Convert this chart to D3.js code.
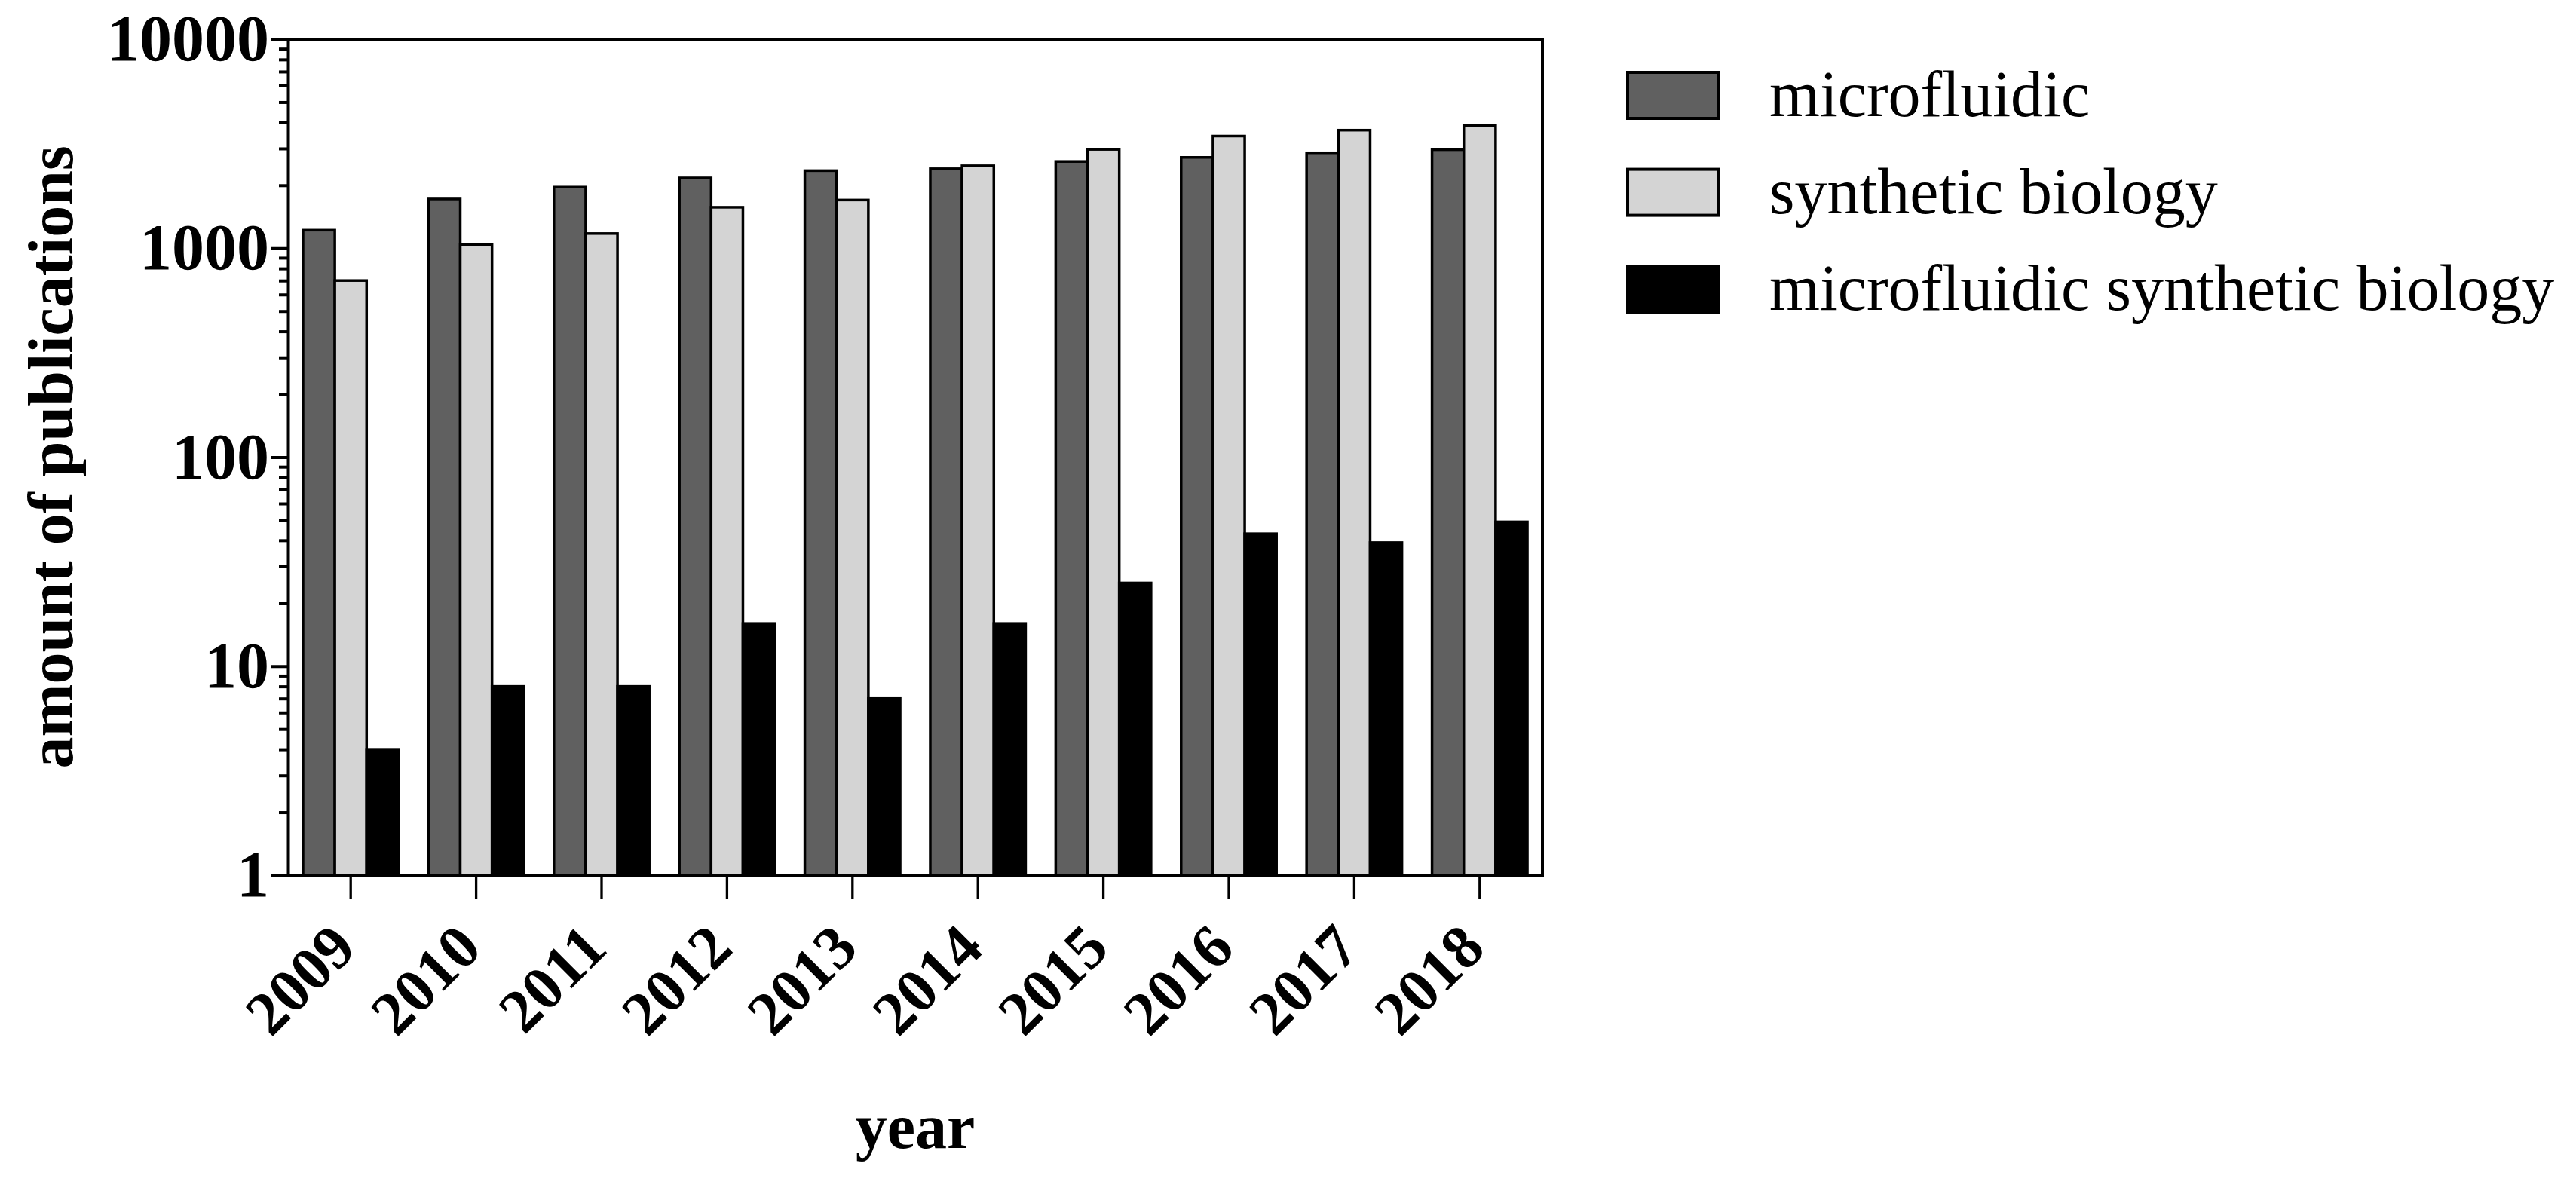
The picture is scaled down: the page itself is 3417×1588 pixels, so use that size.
<!DOCTYPE html>
<html>
<head>
<meta charset="utf-8">
<script src="https://cdn.jsdelivr.net/npm/d3@7"></script>
<style>
  html, body { margin: 0; padding: 0; background: #fff; }
  svg { display: block; }
  text { font-family: "Liberation Serif", "Times New Roman", serif; fill: #000; }
</style>
</head>
<body>
<svg id="chart" width="3417" height="1588"></svg>
<script>
// ---- data ----
const years = ["2009","2010","2011","2012","2013","2014","2015","2016","2017","2018"];
const seriesNames = ["microfluidic", "synthetic biology", "microfluidic synthetic biology"];
const microfluidic = [1220, 1720, 1960, 2170, 2350, 2400, 2600, 2720, 2860, 2960];
const syntheticBiology = [700, 1040, 1175, 1570, 1700, 2480, 2970, 3440, 3670, 3860];
const microfluidicSyntheticBiology = [4, 8, 8, 16, 7, 16, 25, 43, 39, 49];
const majorTicks = [1, 10, 100, 1000, 10000];
const seriesColors = ["#606060", "#d4d4d4", "#000000"];
const yLabel = "amount of publications";
const xLabel = "year";

const seriesValues = [microfluidic, syntheticBiology, microfluidicSyntheticBiology];

// ---- layout ----
const L = 382, R = 2046, T = 52, B = 1161;
const svg = d3.select("#chart");

const x0 = d3.scaleBand().domain(years).range([L, R]).padding(0);
const bw = x0.bandwidth();
const x1 = d3.scaleBand().domain(seriesNames).range([bw * 0.12, bw * 0.88]).padding(0);
const y = d3.scaleLog().domain([1, 10000]).range([B, T]);
const color = d3.scaleOrdinal().domain(seriesNames).range(seriesColors);

// ---- bars ----
const rows = years.map((yr, i) => ({
  year: yr,
  vals: seriesNames.map((s, k) => ({ key: s, value: seriesValues[k][i] }))
}));

const g = svg.append("g");
const groups = g.selectAll("g.grp").data(rows).enter().append("g")
  .attr("transform", d => `translate(${x0(d.year)},0)`);
groups.selectAll("rect").data(d => d.vals).enter().append("rect")
  .attr("x", d => x1(d.key))
  .attr("width", x1.bandwidth())
  .attr("y", d => y(d.value))
  .attr("height", d => y(1) - y(d.value))
  .attr("fill", d => color(d.key))
  .attr("stroke", "#000")
  .attr("stroke-width", 3.5);

// ---- y axis: minor ticks ----
const minorTicks = y.ticks().filter(v => !majorTicks.includes(v));
const yMinor = svg.append("g").attr("transform", `translate(${L},0)`)
  .call(d3.axisLeft(y).tickValues(minorTicks).tickSize(12).tickFormat(""));
yMinor.select(".domain").remove();
yMinor.selectAll(".tick line").attr("stroke", "#000").attr("stroke-width", 4);

// ---- y axis: major ticks ----
const yMajor = svg.append("g").attr("transform", `translate(${L},0)`)
  .call(d3.axisLeft(y).tickValues(majorTicks).tickSize(23).tickSizeOuter(0).tickPadding(2).tickFormat(d3.format("d")));
yMajor.select(".domain").attr("stroke", "#000").attr("stroke-width", 4);
yMajor.selectAll(".tick line").attr("stroke", "#000").attr("stroke-width", 4);
yMajor.selectAll(".tick text")
  .style("font-family", "'Liberation Serif', serif")
  .style("font-weight", "bold")
  .style("font-size", "86px")
  .attr("fill", "#000");

// ---- x axis ----
const xAxis = svg.append("g").attr("transform", `translate(0,${B})`)
  .call(d3.axisBottom(x0).tickSize(32).tickSizeOuter(0).tickPadding(10));
xAxis.select(".domain").attr("stroke", "#000").attr("stroke-width", 4)
  .attr("d", `M${L - 23},0H${R + 2}`);
xAxis.selectAll(".tick line").attr("stroke", "#000").attr("stroke-width", 3.3);
xAxis.selectAll(".tick text")
  .style("font-family", "'Liberation Serif', serif")
  .style("font-weight", "bold")
  .style("font-size", "82px")
  .attr("fill", "#000")
  .attr("text-anchor", "end")
  .attr("dy", "0.35em")
  .attr("transform", "translate(-10,80) rotate(-45)")
  .attr("y", 0).attr("x", 0);

// ---- frame (top and right) ----
svg.append("line").attr("x1", L - 23).attr("x2", R + 2).attr("y1", T).attr("y2", T)
  .attr("stroke", "#000").attr("stroke-width", 4);
svg.append("line").attr("x1", R).attr("x2", R).attr("y1", T).attr("y2", B)
  .attr("stroke", "#000").attr("stroke-width", 4);

// ---- axis titles ----
svg.append("text")
  .attr("transform", `translate(96,${(T + B) / 2}) rotate(-90)`)
  .attr("text-anchor", "middle")
  .style("font-weight", "bold")
  .style("font-size", "84px")
  .text(yLabel);

svg.append("text")
  .attr("x", (L + R) / 2).attr("y", 1523)
  .attr("text-anchor", "middle")
  .style("font-weight", "bold")
  .style("font-size", "84px")
  .text(xLabel);

// ---- legend ----
const legend = svg.append("g").attr("transform", "translate(2159,96)");
const items = legend.selectAll("g").data(seriesNames).enter().append("g")
  .attr("transform", (d, i) => `translate(0,${i * 128.6})`);
items.append("rect")
  .attr("width", 120).attr("height", 61)
  .attr("fill", d => color(d))
  .attr("stroke", "#000").attr("stroke-width", 4);
items.append("text")
  .attr("x", 188).attr("y", 58)
  .style("font-size", "86px")
  .text(d => d);
</script>
</body>
</html>
